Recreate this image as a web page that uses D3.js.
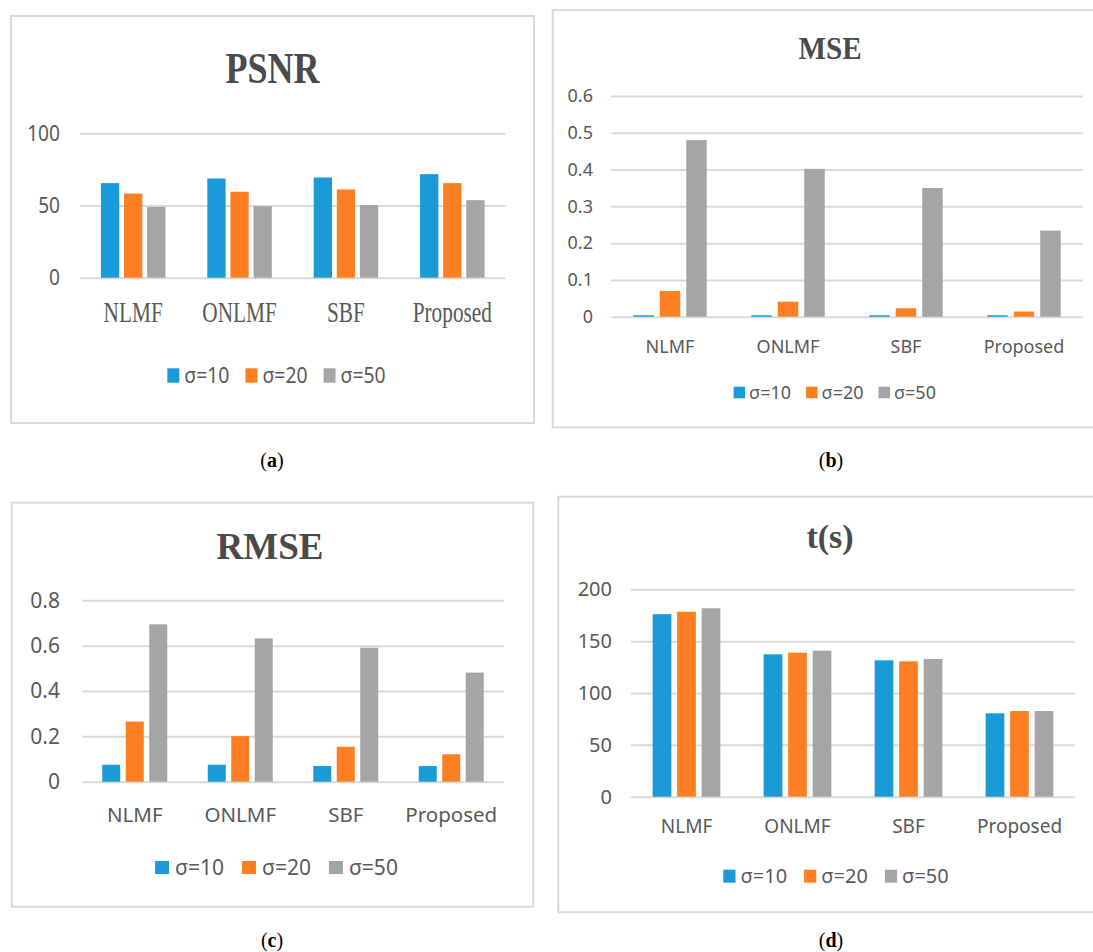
<!DOCTYPE html>
<html>
<head>
<meta charset="utf-8">
<script src="https://cdn.jsdelivr.net/npm/d3@7"></script>
<style>
  html, body { margin: 0; padding: 0; background: #fff; }
  svg { display: block; }
</style>
</head>
<body>
<svg id="fig" width="1093" height="952"></svg>
<script>
// Filters compared on four metrics at three noise levels
const categories = ["NLMF", "ONLMF", "SBF", "Proposed"];
const seriesNames = ["σ=10", "σ=20", "σ=50"];
const seriesColors = ["#1a9ad6", "#fd7f22", "#a5a5a5"];

const psnr10 = [65.5, 68.7, 69.4, 71.7];
const psnr20 = [58.3, 59.5, 61.1, 65.5];
const psnr50 = [49.0, 49.5, 50.3, 53.7];

const mse10 = [0.004, 0.004, 0.004, 0.004];
const mse20 = [0.070, 0.041, 0.023, 0.014];
const mse50 = [0.480, 0.402, 0.350, 0.234];

const rmse10 = [0.075, 0.075, 0.069, 0.069];
const rmse20 = [0.265, 0.201, 0.154, 0.121];
const rmse50 = [0.694, 0.632, 0.591, 0.481];

const time10 = [176.0, 137.3, 131.5, 80.4];
const time20 = [178.4, 138.9, 130.6, 82.6];
const time50 = [181.7, 140.8, 132.8, 82.6];

const psnrTicks = [0, 50, 100];
const mseTicks = [0, 0.1, 0.2, 0.3, 0.4, 0.5, 0.6];
const rmseTicks = [0, 0.2, 0.4, 0.6, 0.8];
const timeTicks = [0, 50, 100, 150, 200];

const SERIF = "'Liberation Serif', 'Times New Roman', serif";
const SANS = "'Noto Sans', 'Open Sans', sans-serif";
const TEXT = "#595959";
const GRID = "#d9d9d9";

const panels = [
  {
    letter: "a", title: "PSNR", series: [psnr10, psnr20, psnr50], ticks: psnrTicks,
    box: [11, 16, 534, 423], x0: 80, x1: 505.5, yBase: 277.7, yTop: 133.3,
    bw: 18.3, gap: 4.8,
    titleStyle: { size: 45, sx: 0.8, cx: 272.5, y: 83.3 },
    tickStyle: { size: 22, sx: 0.87, pad: 20 },
    catStyle: { family: SERIF, size: 30, sx: 0.71, y: 321.7 },
    legendStyle: { size: 22, sx: 0.88, sw: 12, sh: 14.4, swTop: 368.3, y: 383, cx: 276.5, g1: 5, g2: 16 },
    caption: { x: 272, y: 467 }
  },
  {
    letter: "b", title: "MSE", series: [mse10, mse20, mse50], ticks: mseTicks,
    box: [552.7, 10, 1100, 427.3], x0: 611, x1: 1083, yBase: 316.7, yTop: 96,
    bw: 20.5, gap: 6,
    titleStyle: { size: 32, sx: 0.91, cx: 830, y: 58.5 },
    tickStyle: { size: 18, sx: 1, pad: 18 },
    catStyle: { family: SANS, size: 18, sx: 1, y: 352.7 },
    legendStyle: { size: 18, sx: 1, sw: 11.5, sh: 11.6, swTop: 386.7, y: 398.8, cx: 834.8, g1: 4, g2: 15 },
    caption: { x: 831, y: 467 }
  },
  {
    letter: "c", title: "RMSE", series: [rmse10, rmse20, rmse50], ticks: rmseTicks,
    box: [11.7, 502.7, 533.3, 906.7], x0: 82, x1: 504, yBase: 781.7, yTop: 600.3,
    bw: 18, gap: 5.5,
    titleStyle: { size: 37, sx: 1, cx: 270, y: 559.3 },
    tickStyle: { size: 21, sx: 1, pad: 22 },
    catStyle: { family: SANS, size: 20.5, sx: 1, y: 821.7 },
    legendStyle: { size: 21, sx: 1, sw: 14, sh: 13, swTop: 861, y: 875, cx: 276.5, g1: 6, g2: 18 },
    caption: { x: 272, y: 947 }
  },
  {
    letter: "d", title: "t(s)", series: [time10, time20, time50], ticks: timeTicks,
    box: [558.3, 496.7, 1100, 912.3], x0: 631, x1: 1075, yBase: 796.7, yTop: 589.3,
    bw: 18.7, gap: 5.8,
    titleStyle: { size: 34, sx: 1, cx: 830, y: 548.3 },
    tickStyle: { size: 20, sx: 1, pad: 19 },
    catStyle: { family: SANS, size: 19, sx: 1, y: 832.7 },
    legendStyle: { size: 20, sx: 1, sw: 12.2, sh: 13, swTop: 869.7, y: 883, cx: 836, g1: 5, g2: 17 },
    caption: { x: 831, y: 947 }
  }
];

const svg = d3.select("#fig");

panels.forEach(p => {
  const g = svg.append("g").attr("class", "panel-" + p.letter);

  // chart frame
  g.append("rect")
    .attr("x", p.box[0]).attr("y", p.box[1])
    .attr("width", p.box[2] - p.box[0]).attr("height", p.box[3] - p.box[1])
    .attr("fill", "#fff").attr("stroke", GRID).attr("stroke-width", 2);

  // title
  g.append("text")
    .attr("transform", `translate(${p.titleStyle.cx},${p.titleStyle.y}) scale(${p.titleStyle.sx},1)`)
    .attr("text-anchor", "middle")
    .attr("font-family", SERIF).attr("font-weight", "bold")
    .attr("font-size", p.titleStyle.size).attr("fill", "#4a4a4a")
    .text(p.title);

  const yMax = p.ticks[p.ticks.length - 1];
  const y = d3.scaleLinear().domain([0, yMax]).range([p.yBase, p.yTop]);
  const x = d3.scaleBand().domain(categories).range([p.x0, p.x1]).paddingInner(0).paddingOuter(0);
  const groupW = 3 * p.bw + 2 * p.gap;
  const xs = d3.scaleBand().domain(seriesNames).range([0, groupW])
    .paddingInner(p.gap / (p.bw + p.gap)).paddingOuter(0);

  // value axis with gridlines
  const ts = p.tickStyle;
  const axis = d3.axisLeft(y)
    .tickValues(p.ticks)
    .tickFormat(d => String(d))
    .tickSize(-(p.x1 - p.x0))
    .tickPadding(ts.pad);
  const ag = g.append("g").attr("transform", `translate(${p.x0},0)`).call(axis);
  ag.select(".domain").remove();
  ag.selectAll(".tick line").attr("stroke", GRID).attr("stroke-width", 2);
  ag.selectAll(".tick text")
    .attr("font-family", SANS).attr("font-size", ts.size).attr("fill", TEXT)
    .attr("x", -ts.pad / ts.sx)
    .attr("transform", `scale(${ts.sx},1)`);

  // bars
  const rows = [];
  categories.forEach((c, i) => {
    seriesNames.forEach((s, k) => rows.push({ cat: c, name: s, k, v: p.series[k][i] }));
  });
  g.append("g").selectAll("rect").data(rows).join("rect")
    .attr("x", d => x(d.cat) + x.bandwidth() / 2 - groupW / 2 + xs(d.name))
    .attr("width", xs.bandwidth())
    .attr("y", d => y(d.v))
    .attr("height", d => y(0) - y(d.v))
    .attr("fill", d => seriesColors[d.k]);

  // category labels
  const cs = p.catStyle;
  g.append("g").selectAll("text").data(categories).join("text")
    .attr("transform", d => `translate(${x(d) + x.bandwidth() / 2},${cs.y}) scale(${cs.sx},1)`)
    .attr("text-anchor", "middle")
    .attr("font-family", cs.family).attr("font-size", cs.size).attr("fill", TEXT)
    .text(d => d);

  // legend, centred under the plot
  const ls = p.legendStyle;
  const lg = g.append("g");
  const items = seriesNames.map((s, k) => {
    const it = lg.append("g");
    it.append("rect").attr("x", 0).attr("y", ls.swTop).attr("width", ls.sw).attr("height", ls.sh)
      .attr("fill", seriesColors[k]);
    const t = it.append("text")
      .attr("transform", `translate(${ls.sw + ls.g1},${ls.y}) scale(${ls.sx},1)`)
      .attr("font-family", SANS).attr("font-size", ls.size).attr("fill", TEXT)
      .text(s);
    const w = ls.sw + ls.g1 + t.node().getComputedTextLength() * ls.sx;
    return { it, w };
  });
  const total = d3.sum(items, d => d.w) + ls.g2 * (items.length - 1);
  let cx = ls.cx - total / 2;
  items.forEach(d => {
    d.it.attr("transform", `translate(${cx},0)`);
    cx += d.w + ls.g2;
  });

  // panel caption
  const cap = g.append("text")
    .attr("x", p.caption.x).attr("y", p.caption.y)
    .attr("text-anchor", "middle")
    .attr("font-family", SERIF).attr("font-size", 20).attr("fill", "#000");
  cap.append("tspan").text("(");
  cap.append("tspan").attr("font-weight", "bold").text(p.letter);
  cap.append("tspan").text(")");
});
</script>
</body>
</html>
